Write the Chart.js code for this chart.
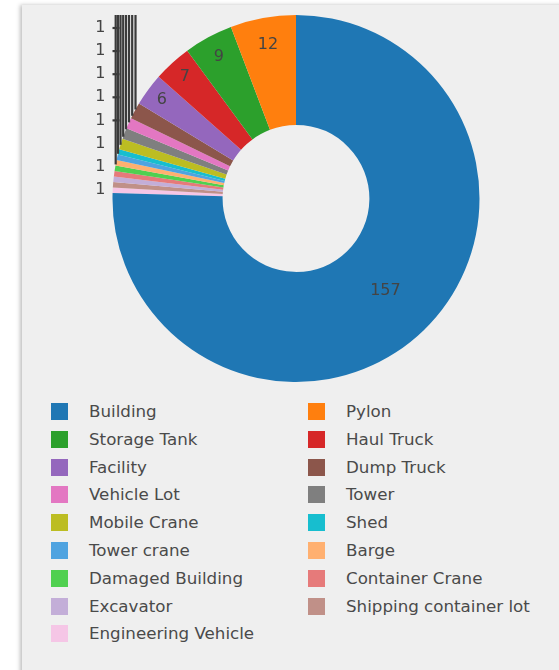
<!DOCTYPE html>
<html>
<head>
<meta charset="utf-8">
<script src="https://cdn.jsdelivr.net/npm/chart.js@4.4.1/dist/chart.umd.min.js"></script>
<style>
  html, body { margin: 0; padding: 0; background: #fff; width: 559px; height: 670px; overflow: hidden; }
  #panel { position: absolute; left: 22px; top: 5px; width: 560px; height: 700px; background: #efefef; box-shadow: -2px 0 4px rgba(0,0,0,0.25); }
  #pie { position: absolute; left: 0; top: 0; }
  .sw { position: absolute; width: 17px; height: 17px; }
  .txt { position: absolute; font: 16.7px "DejaVu Sans", sans-serif; color: #4a4a4a; line-height: 20px; white-space: nowrap; }
</style>
</head>
<body>
<div id="panel"></div>
<canvas id="pie" width="559" height="400"></canvas>
<div id="legend"></div>
<script>
const categories = ['Building', 'Pylon', 'Storage Tank', 'Haul Truck', 'Facility', 'Dump Truck',
  'Vehicle Lot', 'Tower', 'Mobile Crane', 'Shed', 'Tower crane', 'Barge', 'Damaged Building',
  'Container Crane', 'Excavator', 'Shipping container lot', 'Engineering Vehicle'];
const counts = [157, 12, 9, 7, 6, 3, 2, 2, 2, 1, 1, 1, 1, 1, 1, 1, 1];
const colors = ['#1f77b4', '#ff7f0e', '#2ca02c', '#d62728', '#9467bd', '#8c564b',
  '#e377c2', '#7f7f7f', '#bcbd22', '#17becf', '#4fa3e0', '#ffb070', '#50d050',
  '#e67a7a', '#c3aed8', '#c09088', '#f5c6e6'];

document.addEventListener("DOMContentLoaded", () => {
    const total = counts.reduce((a, b) => a + b, 0);
    // slices run counter-clockwise in the original, so feed them reversed
    const revLabels = categories.slice().reverse();
    const revCounts = counts.slice().reverse();
    const revColors = colors.slice().reverse();

    const sliceLabels = {
        id: 'sliceLabels',
        afterDatasetsDraw(chart) {
            const ctx = chart.ctx;
            const meta = chart.getDatasetMeta(0);
            const vals = chart.data.datasets[0].data;
            const maxV = Math.max(...vals);
            const area = chart.chartArea;
            ctx.save();
            ctx.font = '16px "DejaVu Sans", sans-serif';
            ctx.fillStyle = '#444';
            ctx.textAlign = 'center';
            ctx.textBaseline = 'middle';
            const outside = [];
            let cx = 0, cy = 0, R = 0;
            meta.data.forEach((arc, i) => {
                const v = vals[i];
                const p = arc.getProps(['x', 'y', 'startAngle', 'endAngle', 'innerRadius', 'outerRadius'], true);
                cx = p.x; cy = p.y; R = p.outerRadius;
                const mid = (p.startAngle + p.endAngle) / 2;
                if (v === 1) {
                    outside.push({ v, ex: p.x + p.outerRadius * Math.cos(mid), ey: p.y + p.outerRadius * Math.sin(mid) });
                    return;
                }
                if (v < 5) return;
                const r = v === maxV ? (p.innerRadius + p.outerRadius) / 2 : p.outerRadius - 6 - 1.8 * v;
                ctx.fillText(String(v), p.x + r * Math.cos(mid), p.y + r * Math.sin(mid));
            });

            // small slices: labels stacked on the left with leader lines
            outside.sort((a, b) => a.ey - b.ey);
            ctx.textAlign = 'right';
            ctx.strokeStyle = '#3a3a3a';
            ctx.lineWidth = 2.2;
            const n = outside.length;
            outside.forEach((o, k) => {
                const ly = area.top + 13 + k * 23.1;
                const xv = o.ex + 3 + (n - 1 - k) * 2;
                const yHit = cy - Math.sqrt(R * R - (cx - xv) * (cx - xv));
                ctx.fillText(String(o.v), area.left - 7, ly);
                ctx.beginPath();
                ctx.moveTo(xv, area.top);
                ctx.lineTo(xv, yHit);
                ctx.stroke();
                if (ly < yHit - 4) {
                    ctx.beginPath();
                    ctx.moveTo(area.left, ly);
                    ctx.lineTo(area.left + 7, ly);
                    ctx.stroke();
                }
            });
            ctx.restore();
        }
    };

    const pieCtx = document.getElementById('pie').getContext('2d');
    new Chart(pieCtx, {
        type: 'doughnut',
        data: {
            labels: revLabels,
            datasets: [{
                data: revCounts,
                backgroundColor: revColors,
                borderWidth: 0,
                hoverOffset: 0
            }]
        },
        options: {
            responsive: false,
            animation: false,
            cutout: '40%',
            rotation: -360 * (total - counts[0]) / total,
            layout: { padding: { left: 112.5, right: 79.5, top: 15, bottom: 18 } },
            plugins: {
                legend: { display: false },
                tooltip: { enabled: false }
            }
        },
        plugins: [sliceLabels]
    });

    // two-column legend in the original order
    const legend = document.getElementById('legend');
    categories.forEach((name, i) => {
        const col = i % 2, row = Math.floor(i / 2);
        const x = col ? 307.5 : 50.5;
        const cy = 411.5 + row * 27.8;
        const sw = document.createElement('div');
        sw.className = 'sw';
        sw.style.left = x + 'px';
        sw.style.top = (cy - 8.5) + 'px';
        sw.style.background = colors[i];
        legend.appendChild(sw);
        const t = document.createElement('div');
        t.className = 'txt';
        t.style.left = (x + 38.5) + 'px';
        t.style.top = (cy - 10.5) + 'px';
        t.textContent = name;
        legend.appendChild(t);
    });
});
</script>
</body>
</html>
